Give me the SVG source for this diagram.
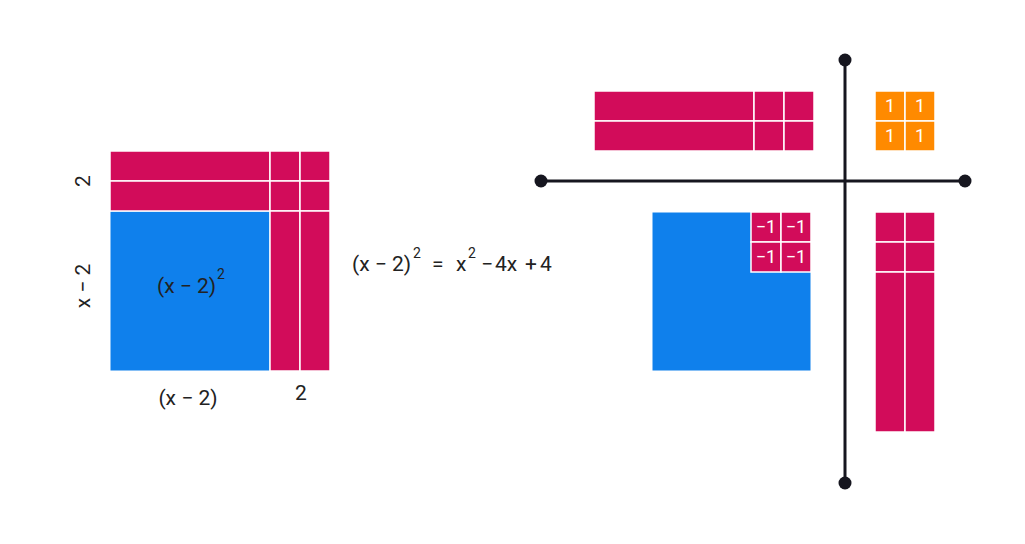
<svg xmlns="http://www.w3.org/2000/svg" width="1025" height="544" viewBox="0 0 1025 544">
<style>
.red{fill:#d20c5a;stroke:#ffffff;stroke-width:1.5}
.blue{fill:#0f80ec;stroke:#ffffff;stroke-width:1}
.org{fill:#ff8a00;stroke:#ffffff;stroke-width:1.5}
.t{font-family:Roboto,"Liberation Sans",sans-serif;font-size:21px;fill:#222}
.s{font-family:Roboto,"Liberation Sans",sans-serif;font-size:14px;fill:#222}
.w{font-family:Roboto,"Liberation Sans",sans-serif;font-size:18px;fill:#ffffff;text-anchor:middle}
.ax{stroke:#16161f;stroke-width:3}
.dot{fill:#16161f}
</style>
<rect width="1025" height="544" fill="#ffffff"/>
<g id="left-model">
<rect class="blue" x="110" y="211" width="160" height="160"/>
<rect class="red" x="110" y="151" width="160" height="30"/>
<rect class="red" x="110" y="181" width="160" height="30"/>
<rect class="red" x="270" y="151" width="30" height="30"/>
<rect class="red" x="300" y="151" width="30" height="30"/>
<rect class="red" x="270" y="181" width="30" height="30"/>
<rect class="red" x="300" y="181" width="30" height="30"/>
<rect class="red" x="270" y="211" width="30" height="160"/>
<rect class="red" x="300" y="211" width="30" height="160"/>
<text class="t" x="157" y="293">(x − 2)</text><text class="s" x="217" y="279">2</text>
<text class="t" transform="translate(90,181) rotate(-90)" text-anchor="middle">2</text>
<text class="t" transform="translate(90,286) rotate(-90)" text-anchor="middle">x − 2</text>
<text class="t" x="188" y="405" text-anchor="middle">(x − 2)</text>
<text class="t" x="301" y="400" text-anchor="middle">2</text>
</g>
<g id="equation">
<text class="t" x="352" y="271">(x − 2)</text>
<text class="s" x="413" y="258">2</text>
<text class="t" x="432" y="271">=</text>
<text class="t" x="456" y="271">x</text>
<text class="s" x="468" y="258">2</text>
<text class="t" x="481" y="271">−</text>
<text class="t" x="495" y="271">4x</text>
<text class="t" x="525" y="271">+</text>
<text class="t" x="540" y="271">4</text>
</g>
<g id="axes">
<line class="ax" x1="541" y1="181" x2="965" y2="181"/>
<line class="ax" x1="845" y1="60" x2="845" y2="483"/>
<circle class="dot" cx="541" cy="181" r="6.5"/>
<circle class="dot" cx="965" cy="181" r="6.5"/>
<circle class="dot" cx="845" cy="60" r="6.5"/>
<circle class="dot" cx="845" cy="483" r="6.5"/>
</g>
<g id="top-left-tiles">
<rect class="red" x="594" y="91" width="160" height="30"/>
<rect class="red" x="594" y="121" width="160" height="30"/>
<rect class="red" x="754" y="91" width="30" height="30"/>
<rect class="red" x="784" y="91" width="30" height="30"/>
<rect class="red" x="754" y="121" width="30" height="30"/>
<rect class="red" x="784" y="121" width="30" height="30"/>
</g>
<g id="ones">
<rect class="org" x="875" y="91" width="30" height="30"/>
<rect class="org" x="905" y="91" width="30" height="30"/>
<rect class="org" x="875" y="121" width="30" height="30"/>
<rect class="org" x="905" y="121" width="30" height="30"/>
<text class="w" x="890" y="112">1</text><text class="w" x="920" y="112">1</text>
<text class="w" x="890" y="142">1</text><text class="w" x="920" y="142">1</text>
</g>
<g id="bottom-left-tiles">
<rect class="blue" x="652" y="212" width="159" height="159"/>
<rect class="red" x="751" y="212" width="30" height="30"/>
<rect class="red" x="781" y="212" width="30" height="30"/>
<rect class="red" x="751" y="242" width="30" height="30"/>
<rect class="red" x="781" y="242" width="30" height="30"/>
<text class="w" x="766" y="233">−1</text><text class="w" x="796" y="233">−1</text>
<text class="w" x="766" y="263">−1</text><text class="w" x="796" y="263">−1</text>
</g>
<g id="bottom-right-tiles">
<rect class="red" x="875" y="212" width="30" height="30"/>
<rect class="red" x="905" y="212" width="30" height="30"/>
<rect class="red" x="875" y="242" width="30" height="30"/>
<rect class="red" x="905" y="242" width="30" height="30"/>
<rect class="red" x="875" y="272" width="30" height="160"/>
<rect class="red" x="905" y="272" width="30" height="160"/>
</g>
</svg>
